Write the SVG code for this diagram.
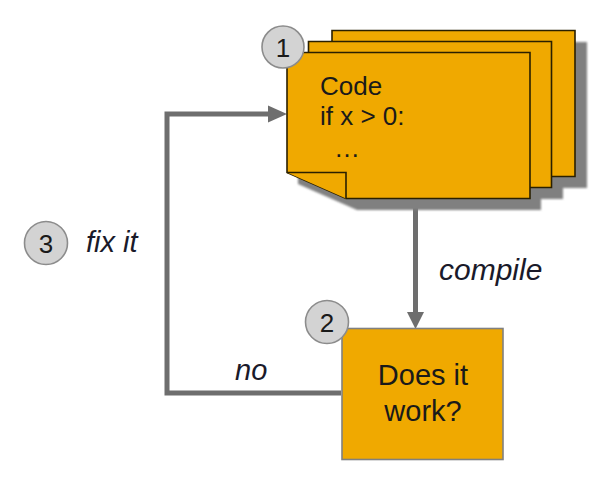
<svg xmlns="http://www.w3.org/2000/svg" width="598" height="480" viewBox="0 0 598 480">
<style>
.sheet{fill:#F0A900;stroke:#2a2000;stroke-width:1.6;stroke-linejoin:miter}
.shadow{fill:#808080}
.box{fill:#F0A900;stroke:#808080;stroke-width:1.6}
.badge{fill:#d3d3d3;stroke:#8c8c8c;stroke-width:1.6}
.num{font-family:"Liberation Sans",Arial,sans-serif;font-size:26px;fill:#1a1a1a;text-anchor:middle}
.txt{font-family:"Liberation Sans",Arial,sans-serif;font-size:26px;fill:#1a1a1a}
.big{font-family:"Liberation Sans",Arial,sans-serif;font-size:29px;fill:#1a1a1a;text-anchor:middle}
.lbl{font-family:"Liberation Sans",Arial,sans-serif;font-size:29px;font-style:italic;fill:#1a1a2a}
.conn{fill:none;stroke:#6e6e6e;stroke-width:5}
.head{fill:#6e6e6e}
</style>
<defs>
<filter id="blur" x="-10%" y="-10%" width="120%" height="120%"><feGaussianBlur stdDeviation="1"/></filter>
<polygon id="page" points="0,0 243,0 243,146 59,146 0,120"/>
</defs>
<g id="connectors">
<path class="conn" d="M341 393 H167 V114 H270"/>
<polygon class="head" points="268,105.5 287,114 268,122.5"/>
<path class="conn" d="M415.5 198 V313"/>
<polygon class="head" points="407,312 424,312 415.5,329"/>
</g>
<g id="code">
<g filter="url(#blur)" class="shadow">
<use href="#page" x="344" y="42"/>
<use href="#page" x="320" y="53"/>
<use href="#page" x="298" y="64"/>
</g>
<use href="#page" class="sheet" x="332" y="30.5"/>
<use href="#page" class="sheet" x="308.5" y="41.5"/>
<use href="#page" class="sheet" x="287" y="52.5"/>
<polyline class="sheet" points="287,172.5 346,172.5 346,198.5" fill="none"/>
<text class="txt" x="320" y="95">Code</text>
<text class="txt" x="320" y="125">if x &gt; 0:</text>
<text class="txt" x="334" y="157">…</text>
<circle class="badge" cx="283" cy="47" r="21"/>
<text class="num" x="283" y="56.5">1</text>
</g>
<g id="check">
<rect class="box" x="342" y="328.5" width="161" height="131"/>
<text class="big" x="423" y="385">Does it</text>
<text class="big" x="423" y="421">work?</text>
<circle class="badge" cx="327" cy="322" r="21.5"/>
<text class="num" x="327" y="331.5">2</text>
</g>
<g id="fix">
<circle class="badge" cx="46" cy="243" r="21.5"/>
<text class="num" x="46" y="252.5">3</text>
<text class="lbl" x="86" y="252">fix it</text>
</g>
<g id="labels">
<text class="lbl" x="439" y="280" style="font-size:30px">compile</text>
<text class="lbl" x="235" y="380">no</text>
</g>
</svg>
